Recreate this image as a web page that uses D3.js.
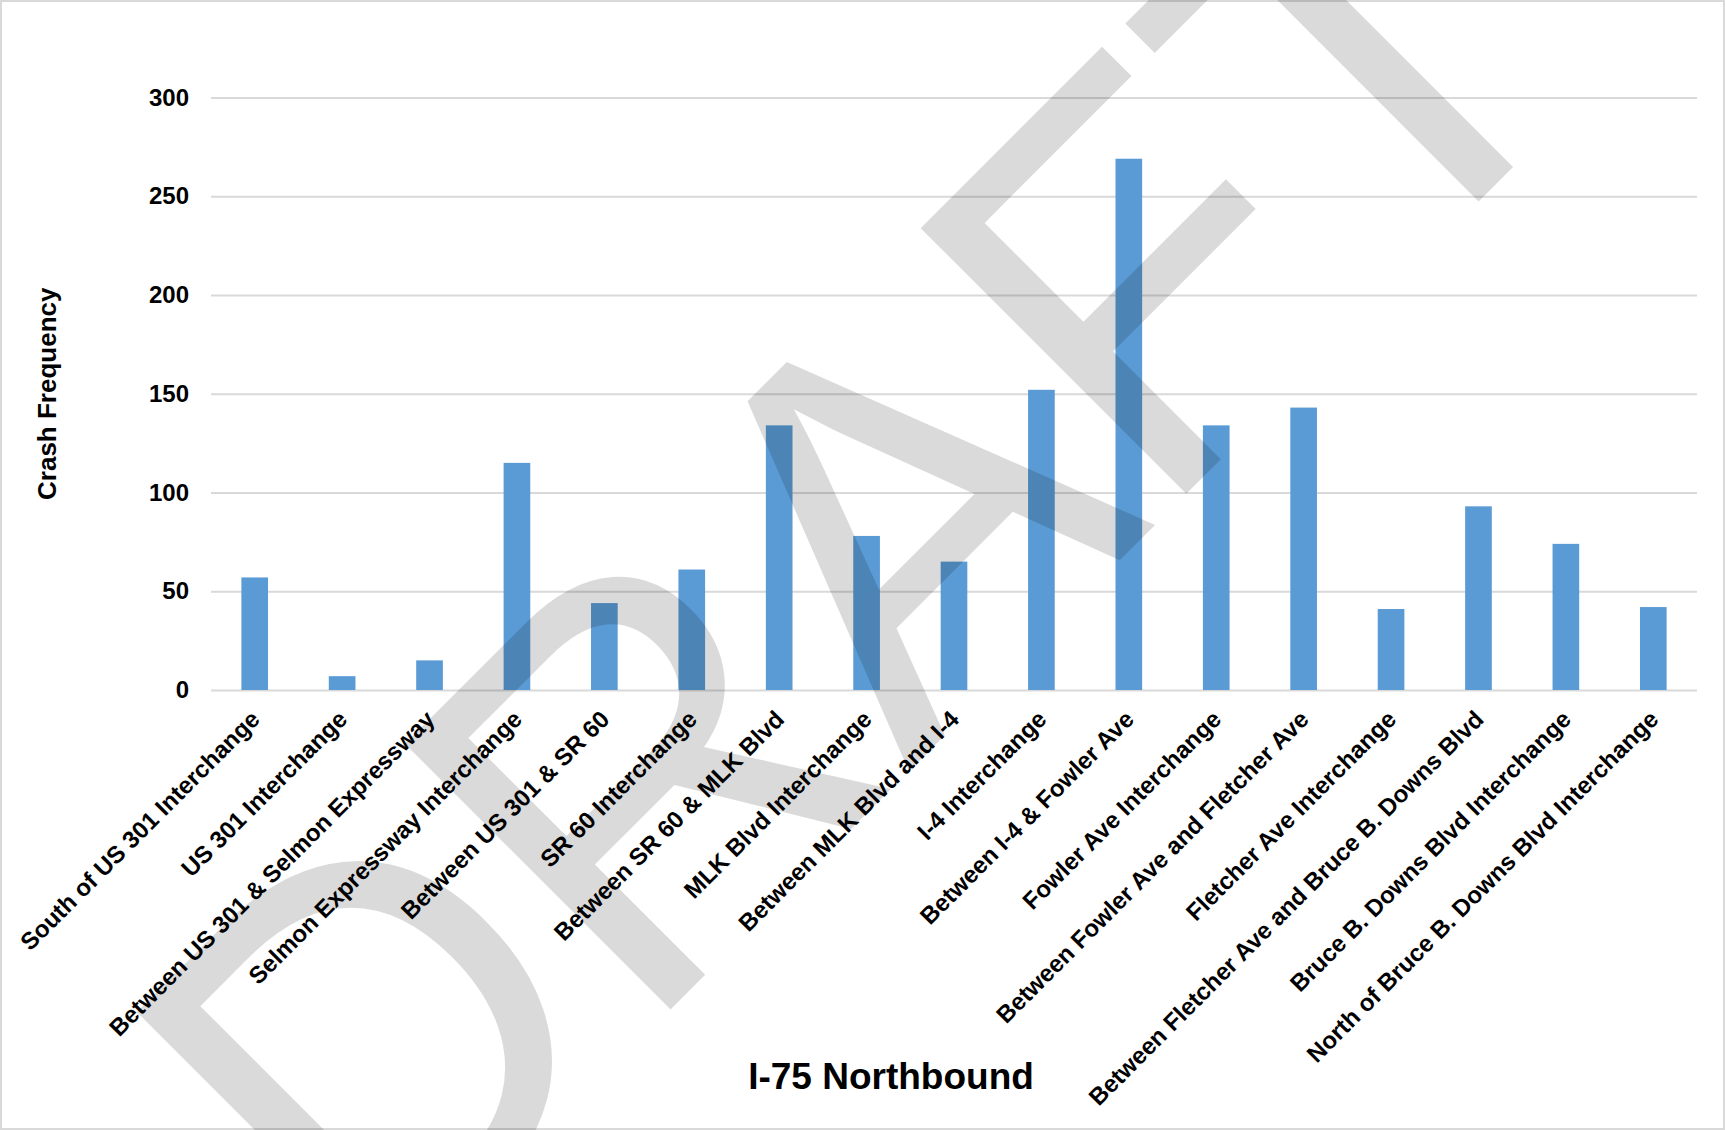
<!DOCTYPE html>
<html>
<head>
<meta charset="utf-8">
<title>I-75 Northbound crash frequency</title>
<script src="https://cdn.jsdelivr.net/npm/d3@7"></script>
<style>
    body { margin: 0; background: #fff; }
    svg text { font-family: "Liberation Sans", Arial, sans-serif; }
</style>
</head>
<body>
<div id="chart"></div>
<script>
var categories = [
    "South of US 301 Interchange",
    "US 301 Interchange",
    "Between US 301 & Selmon Expressway",
    "Selmon Expressway Interchange",
    "Between US 301 & SR 60",
    "SR 60 Interchange",
    "Between SR 60 & MLK Blvd",
    "MLK Blvd Interchange",
    "Between MLK Blvd and I-4",
    "I-4 Interchange",
    "Between I-4 & Fowler Ave",
    "Fowler Ave Interchange",
    "Between Fowler Ave and Fletcher Ave",
    "Fletcher Ave Interchange",
    "Between Fletcher Ave and Bruce B. Downs Blvd",
    "Bruce B. Downs Blvd Interchange",
    "North of Bruce B. Downs Blvd Interchange"
];
var crashes = [57, 7, 15, 115, 44, 61, 134, 78, 65, 152, 269, 134, 143, 41, 93, 74, 42];
var yTicks = [0, 50, 100, 150, 200, 250, 300];

(function () {
    'use strict';

    var width = 1725, height = 1130;
    var left = 211, right = 1697, top = 97.5, bottom = 690;

    var svg = d3.select("#chart").append("svg")
        .attr("width", width)
        .attr("height", height);

    // outer frame of the picture
    svg.append("rect")
        .attr("x", 1).attr("y", 1)
        .attr("width", width - 2).attr("height", height - 2)
        .style("fill", "#fff")
        .style("stroke", "#d9d9d9")
        .style("stroke-width", 2);

    var x = d3.scaleBand()
        .domain(categories)
        .range([left, right])
        .paddingInner(0.695)
        .paddingOuter(0.3475);

    var y = d3.scaleLinear()
        .domain([0, 300])
        .range([bottom, top]);

    // gridlines + tick labels
    var yAxis = svg.append("g")
        .attr("transform", "translate(" + left + ",0)")
        .call(d3.axisLeft(y).tickValues(yTicks).tickSize(-(right - left)).tickPadding(22));
    yAxis.select(".domain").remove();
    yAxis.selectAll(".tick line")
        .style("stroke", "#d9d9d9")
        .style("stroke-width", 2);
    yAxis.selectAll(".tick text")
        .attr("fill", "#000")
        .style("font-size", "24px")
        .style("font-weight", "bold");

    svg.append("g").selectAll("rect")
        .data(crashes)
        .enter().append("rect")
        .attr("x", (d, i) => x(categories[i]))
        .attr("y", d => y(d))
        .attr("width", x.bandwidth())
        .attr("height", d => y(0) - y(d))
        .style("fill", "#5b9bd5");

    // category labels, rotated
    var xAxis = svg.append("g")
        .attr("transform", "translate(0," + bottom + ")")
        .call(d3.axisBottom(x).tickSize(0).tickPadding(0));
    xAxis.select(".domain").remove();
    xAxis.selectAll(".tick text")
        .attr("fill", "#000")
        .attr("text-anchor", "end")
        .attr("x", 0)
        .attr("y", 0)
        .attr("dy", "0.71em")
        .attr("transform", "translate(-5.5,18.7) rotate(-45)")
        .style("font-size", "24px")
        .style("font-weight", "bold");

    svg.append("text")
        .attr("transform", "translate(56," + ((top + bottom) / 2) + ") rotate(-90)")
        .attr("text-anchor", "middle")
        .style("font-size", "26px")
        .style("font-weight", "bold")
        .text("Crash Frequency");

    svg.append("text")
        .attr("x", 891)
        .attr("y", 1089)
        .attr("text-anchor", "middle")
        .style("font-size", "37px")
        .style("font-weight", "bold")
        .text("I-75 Northbound");

    // DRAFT watermark over everything (slightly taller letters, like the original)
    svg.append("text")
        .attr("transform", "translate(372,1308) rotate(-45) scale(1,1.04)")
        .style("font-size", "525px")
        .style("fill", "#000")
        .style("fill-opacity", 0.145)
        .text("DRAFT");
}());
</script>
</body>
</html>
